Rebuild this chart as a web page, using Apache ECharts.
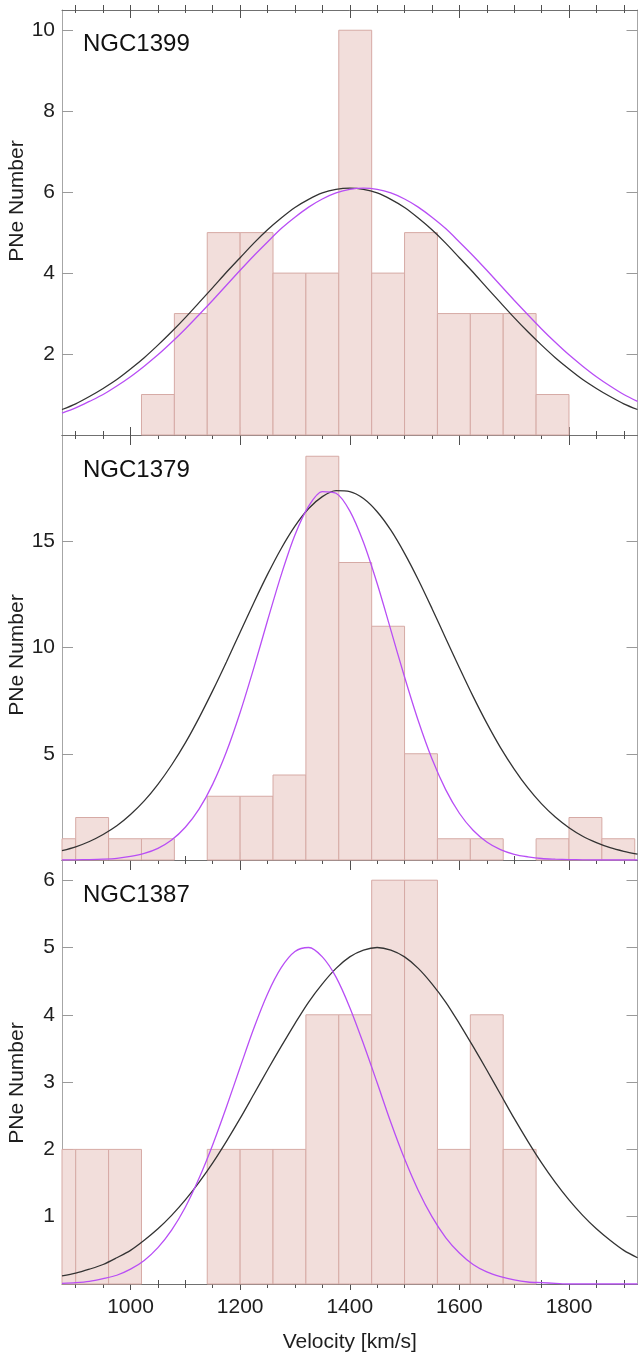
<!DOCTYPE html>
<html>
<head>
<meta charset="utf-8">
<script src="https://cdn.jsdelivr.net/npm/echarts@6/dist/echarts.min.js"></script>
<style>
  html, body { margin: 0; padding: 0; background: #ffffff; }
  #chart { width: 638px; height: 1357px; }
</style>
</head>
<body>
<div id="chart"></div>
<script>
// ---------------- DATA ----------------
const galaxies = ['NGC1399', 'NGC1379', 'NGC1387'];
const yTitle = 'PNe Number';
const xTitle = 'Velocity [km/s]';
const BIN_WIDTH = 60; // km/s

// Histogram bins (left edge of each bin, km/s) and counts
const binStarts1399 = [1020, 1080, 1140, 1200, 1260, 1320, 1380, 1440, 1500, 1560, 1620, 1680, 1740];
const counts1399    = [1, 3, 5, 5, 4, 4, 10, 4, 5, 3, 3, 3, 1];

const binStarts1379 = [840, 900, 960, 1020, 1080, 1140, 1200, 1260, 1320, 1380, 1440, 1500, 1560, 1620, 1680, 1740, 1800, 1860];
const counts1379    = [1, 2, 1, 1, 0, 3, 3, 4, 19, 14, 11, 5, 1, 1, 0, 1, 2, 1];

const binStarts1387 = [840, 900, 960, 1020, 1080, 1140, 1200, 1260, 1320, 1380, 1440, 1500, 1560, 1620, 1680];
const counts1387    = [2, 2, 2, 0, 0, 2, 2, 2, 4, 4, 6, 6, 2, 4, 2];

const curveX = [875, 900, 925, 950, 975, 1000, 1025, 1050, 1075, 1100, 1125, 1150, 1175, 1200, 1225, 1250, 1275, 1300, 1325, 1350, 1375,
                1400, 1425, 1450, 1475, 1500, 1525, 1550, 1575, 1600, 1625, 1650, 1675, 1700, 1725, 1750, 1775, 1800, 1825, 1850, 1875, 1900, 1925];

const blackY1399  = [0.63, 0.77, 0.95, 1.15, 1.37, 1.63, 1.91, 2.22, 2.55, 2.90, 3.27, 3.64, 4.02, 4.38, 4.74, 5.07, 5.36, 5.62, 5.82, 5.98, 6.07,
                     6.10, 6.07, 5.98, 5.82, 5.62, 5.36, 5.07, 4.74, 4.38, 4.02, 3.64, 3.27, 2.90, 2.55, 2.22, 1.91, 1.63, 1.37, 1.15, 0.95, 0.77, 0.63];
const purpleY1399 = [0.54, 0.67, 0.83, 1.00, 1.21, 1.44, 1.70, 1.98, 2.29, 2.62, 2.97, 3.33, 3.70, 4.07, 4.43, 4.77, 5.10, 5.38, 5.63, 5.83, 5.98,
                     6.07, 6.10, 6.07, 5.98, 5.83, 5.63, 5.38, 5.10, 4.77, 4.43, 4.07, 3.70, 3.33, 2.97, 2.62, 2.29, 1.98, 1.70, 1.44, 1.21, 1.00, 0.83];

const blackY1379  = [0.44, 0.62, 0.87, 1.20, 1.61, 2.14, 2.78, 3.56, 4.47, 5.51, 6.69, 7.97, 9.32, 10.72, 12.11, 13.44, 14.66, 15.71, 16.54, 17.10, 17.38,
                     17.34, 17.01, 16.39, 15.52, 14.43, 13.19, 11.84, 10.44, 9.05, 7.70, 6.44, 5.29, 4.28, 3.39, 2.64, 2.02, 1.52, 1.12, 0.82, 0.58, 0.41, 0.28];
const purpleY1379 = [0.00, 0.01, 0.02, 0.04, 0.08, 0.17, 0.31, 0.55, 0.94, 1.54, 2.39, 3.57, 5.09, 6.94, 9.04, 11.27, 13.42, 15.29, 16.65, 17.34, 17.26,
                     16.43, 14.95, 13.01, 10.82, 8.61, 6.55, 4.76, 3.31, 2.20, 1.40, 0.85, 0.49, 0.27, 0.15, 0.07, 0.04, 0.02, 0.01, 0.00, 0.00, 0.00, 0.00];

const blackY1387  = [0.12, 0.16, 0.22, 0.29, 0.39, 0.50, 0.65, 0.82, 1.02, 1.25, 1.51, 1.80, 2.12, 2.46, 2.82, 3.18, 3.53, 3.87, 4.19, 4.46, 4.69,
                     4.86, 4.96, 5.00, 4.96, 4.86, 4.69, 4.46, 4.19, 3.87, 3.53, 3.18, 2.82, 2.46, 2.12, 1.80, 1.51, 1.25, 1.02, 0.82, 0.65, 0.50, 0.39];
const purpleY1387 = [0.01, 0.02, 0.04, 0.08, 0.13, 0.22, 0.35, 0.54, 0.80, 1.14, 1.57, 2.07, 2.63, 3.22, 3.80, 4.31, 4.70, 4.94, 5.00, 4.86, 4.56,
                     4.11, 3.57, 2.99, 2.40, 1.86, 1.39, 1.00, 0.69, 0.46, 0.29, 0.18, 0.11, 0.06, 0.03, 0.02, 0.01, 0.00, 0.00, 0.00, 0.00, 0.00, 0.00];

// Tick values
const xMajorTicks = [1000, 1200, 1400, 1600, 1800];
const xMinorTicks = [900, 950, 1050, 1100, 1150, 1250, 1300, 1350, 1450, 1500, 1550, 1650, 1700, 1750, 1850, 1900];
const yTicks1399 = [2, 4, 6, 8, 10];
const yTicks1379 = [5, 10, 15];
const yTicks1387 = [1, 2, 3, 4, 5, 6];

// ---------------- BUILD ----------------
const FONT = '"Liberation Sans", Arial, Helvetica, sans-serif';
const TEXT = '#1e1e1e';
const X_MIN = 875, X_MAX = 1925;

const panels = [
  { name: galaxies[0], bins: binStarts1399, counts: counts1399, by: blackY1399, py: purpleY1399, yTicks: yTicks1399, yMax: 10.5, top: 10, height: 425, titleY: 201 },
  { name: galaxies[1], bins: binStarts1379, counts: counts1379, by: blackY1379, py: purpleY1379, yTicks: yTicks1379, yMax: 20, top: 435, height: 425, titleY: 655 },
  { name: galaxies[2], bins: binStarts1387, counts: counts1387, by: blackY1387, py: purpleY1387, yTicks: yTicks1387, yMax: 6.3, top: 860, height: 424, titleY: 1083 }
];

const grids = [], xAxes = [], yAxes = [], series = [], graphics = [];

function xAx(g, position, values, len, inside, showLine, extra) {
  const ax = {
    type: 'value', gridIndex: g, position: position, min: X_MIN, max: X_MAX,
    axisLine: { show: showLine, onZero: false, lineStyle: { color: '#707070', width: 1 } },
    axisTick: { show: true, inside: inside, length: len, customValues: values, lineStyle: { color: '#505050', width: 1 } },
    axisLabel: { show: false },
    splitLine: { show: false }
  };
  return Object.assign(ax, extra || {});
}

panels.forEach((p, g) => {
  grids.push({ left: 62, right: 0.5, top: p.top, height: p.height, containLabel: false, outerBoundsMode: 'none' });

  const isLast = g === panels.length - 1;
  const mainIdx = xAxes.length;
  const bottomExtra = isLast ? {
    axisLabel: { show: true, customValues: xMajorTicks, fontSize: 21, fontFamily: FONT, color: TEXT, margin: 13, formatter: v => String(v) },
    name: xTitle, nameLocation: 'middle', nameGap: 48,
    nameTextStyle: { fontSize: 21, fontFamily: FONT, color: TEXT }
  } : {};
  xAxes.push(xAx(g, 'bottom', xMajorTicks, isLast ? 6 : 10, false, true, bottomExtra));
  xAxes.push(xAx(g, 'bottom', xMinorTicks, 4, false, false));
  xAxes.push(xAx(g, 'top', xMajorTicks, g === 0 ? 5 : 8, false, true));
  xAxes.push(xAx(g, 'top', xMinorTicks, g === 0 ? 5 : 4, false, false));
  if (g === 0) {
    xAxes.push(xAx(g, 'top', xMajorTicks, 8, true, false));
    xAxes.push(xAx(g, 'top', xMinorTicks, 3, true, false));
  }
  if (isLast) {
    xAxes.push(xAx(g, 'bottom', xMinorTicks, 4, true, false));
  }

  const yIdx = yAxes.length;
  yAxes.push({
    type: 'value', gridIndex: g, position: 'left', min: 0, max: p.yMax,
    axisLine: { show: true, onZero: false, lineStyle: { color: '#a6a6a6', width: 1 } },
    axisTick: { show: true, inside: true, length: 11, customValues: p.yTicks, lineStyle: { color: '#9a9a9a', width: 1 } },
    axisLabel: { show: true, customValues: p.yTicks, fontSize: 21, fontFamily: FONT, color: TEXT, margin: 7 },
    splitLine: { show: false }
  });
  yAxes.push({
    type: 'value', gridIndex: g, position: 'right', min: 0, max: p.yMax,
    axisLine: { show: true, onZero: false, lineStyle: { color: '#a6a6a6', width: 1 } },
    axisTick: { show: true, inside: true, length: 11, customValues: p.yTicks, lineStyle: { color: '#9a9a9a', width: 1 } },
    axisLabel: { show: false },
    splitLine: { show: false }
  });

  series.push({
    type: 'custom', xAxisIndex: mainIdx, yAxisIndex: yIdx, silent: true, z: 2,
    data: p.bins.map((b, i) => [b, p.counts[i]]),
    encode: { x: 0, y: 1 },
    renderItem: function (params, api) {
      const x0 = api.value(0), n = api.value(1);
      if (!n) return null;
      const a = api.coord([x0, 0]);
      const b = api.coord([x0 + BIN_WIDTH, n]);
      const cs = params.coordSys;
      const rect = echarts.graphic.clipRectByRect(
        { x: a[0], y: b[1], width: b[0] - a[0], height: a[1] - b[1] },
        { x: cs.x, y: cs.y - 1, width: cs.width, height: cs.height + 1 }
      );
      if (!rect) return null;
      return { type: 'rect', shape: rect, style: { fill: '#f2dedb', stroke: '#d6aaa5', lineWidth: 1 } };
    }
  });
  series.push({
    type: 'line', xAxisIndex: mainIdx, yAxisIndex: yIdx, silent: true, z: 4,
    data: curveX.map((x, i) => [x, p.by[i]]),
    smooth: 0.3, showSymbol: false, symbol: 'none', clip: true,
    lineStyle: { color: '#333333', width: 1.3 }
  });
  series.push({
    type: 'line', xAxisIndex: mainIdx, yAxisIndex: yIdx, silent: true, z: 5,
    data: curveX.map((x, i) => [x, p.py[i]]),
    smooth: 0.3, showSymbol: false, symbol: 'none', clip: true,
    lineStyle: { color: '#b84ef5', width: 1.3 }
  });

  graphics.push({
    type: 'text', left: 83, top: p.top + (g === 0 ? 22 : 23), silent: true,
    style: { text: p.name, fontSize: 24, fontFamily: FONT, fill: '#111111' }
  });
  graphics.push({
    type: 'text', x: 17, y: p.titleY, rotation: Math.PI / 2, silent: true,
    style: { text: yTitle, fontSize: 21, fontFamily: FONT, fill: TEXT, align: 'center', verticalAlign: 'middle' }
  });
});

const chart = echarts.init(document.getElementById('chart'), null, { renderer: 'canvas' });
chart.setOption({
  animation: false,
  backgroundColor: '#ffffff',
  grid: grids,
  xAxis: xAxes,
  yAxis: yAxes,
  series: series,
  graphic: graphics
});
</script>
</body>
</html>
